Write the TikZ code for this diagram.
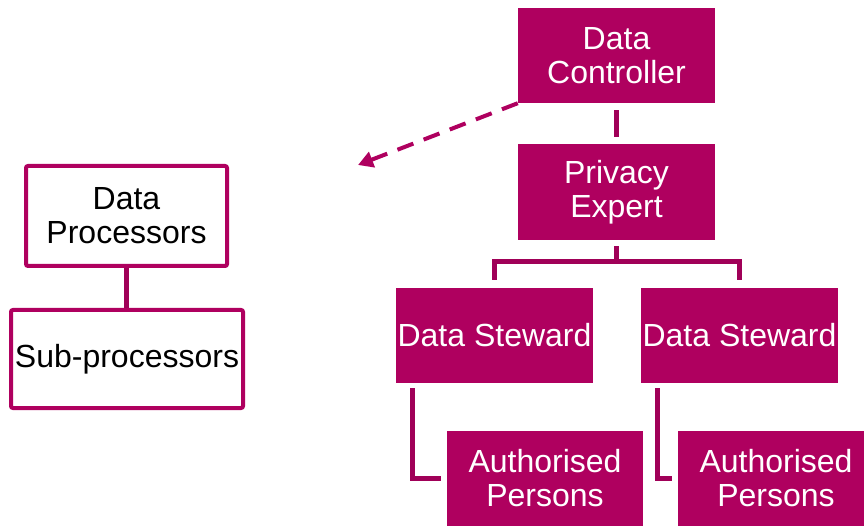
\documentclass[tikz,border=0pt]{standalone}
\usepackage{fontspec}
\setmainfont{Liberation Sans}
\usetikzlibrary{arrows.meta}
\definecolor{gdprmagenta}{RGB}{175,0,95}
\definecolor{gdprline}{RGB}{160,0,88}

\begin{document}
\begin{tikzpicture}[x=1pt, y=-1pt,
    role/.style={fill=gdprmagenta, text=white, align=center, inner sep=0pt,
        minimum width=197pt, minimum height=95pt, font=\fontsize{32}{34}\selectfont},
    outside/.style={draw=gdprmagenta, line width=4pt, rounded corners=2pt, fill=white,
        text=black, align=center, inner sep=0pt, font=\fontsize{32}{34}\selectfont},
    link/.style={draw=gdprline, line width=5pt},
    handover/.style={draw=gdprmagenta, line width=4pt, dash pattern=on 17pt off 11pt,
        -{Triangle[length=15pt,width=16pt]}}]
    \useasboundingbox (0,0) rectangle (864,526);
    \clip (0,0) rectangle (864,526);

    % Controller side
    \node[role] (dc) at (616.5,55.5) {Data\\Controller};
    \node[role, minimum height=96pt] (pe) at (616.5,192) {Privacy\\Expert};
    \node[role] (ds1) at (494.5,335.5) {Data Steward};
    \node[role] (ds2) at (739.5,335.5) {Data Steward};
    \node[role, minimum width=196pt] (ap1) at (545,478.5) {Authorised\\Persons};
    \node[role] (ap2) at (776,478.5) {Authorised\\Persons};

    % Processor side
    \node[outside, minimum width=201pt, minimum height=100pt] (dp) at (126.5,216) {Data\\Processors};
    \node[outside, minimum width=232pt, minimum height=98pt] (sp) at (127,359) {Sub-processors};

    % Hierarchy links
    \coordinate (bus) at (616.5,262);
    \draw[link, shorten <=7pt, shorten >=7pt] (dc) -- (pe);
    \draw[link, shorten <=6pt] (pe.south) -- (bus);
    \draw[link, shorten <=8pt, shorten >=8pt] (ds1.north) -- (ds1.north |- bus)
        -- (ds2.north |- bus) -- (ds2.north);
    \draw[link, shorten <=5pt, shorten >=6pt] ([xshift=17pt]ds1.south west) |- (ap1.west);
    \draw[link, shorten <=5pt, shorten >=5pt] ([xshift=17pt]ds2.south west) |- (ap2.west);
    \draw[link] (dp.south) -- (dp.south |- sp.north);

    % Handover to processors (dashed)
    \coordinate (handend) at (358,165);
    \draw[handover] (dc.south west) -- (handend);
\end{tikzpicture}
\end{document}
